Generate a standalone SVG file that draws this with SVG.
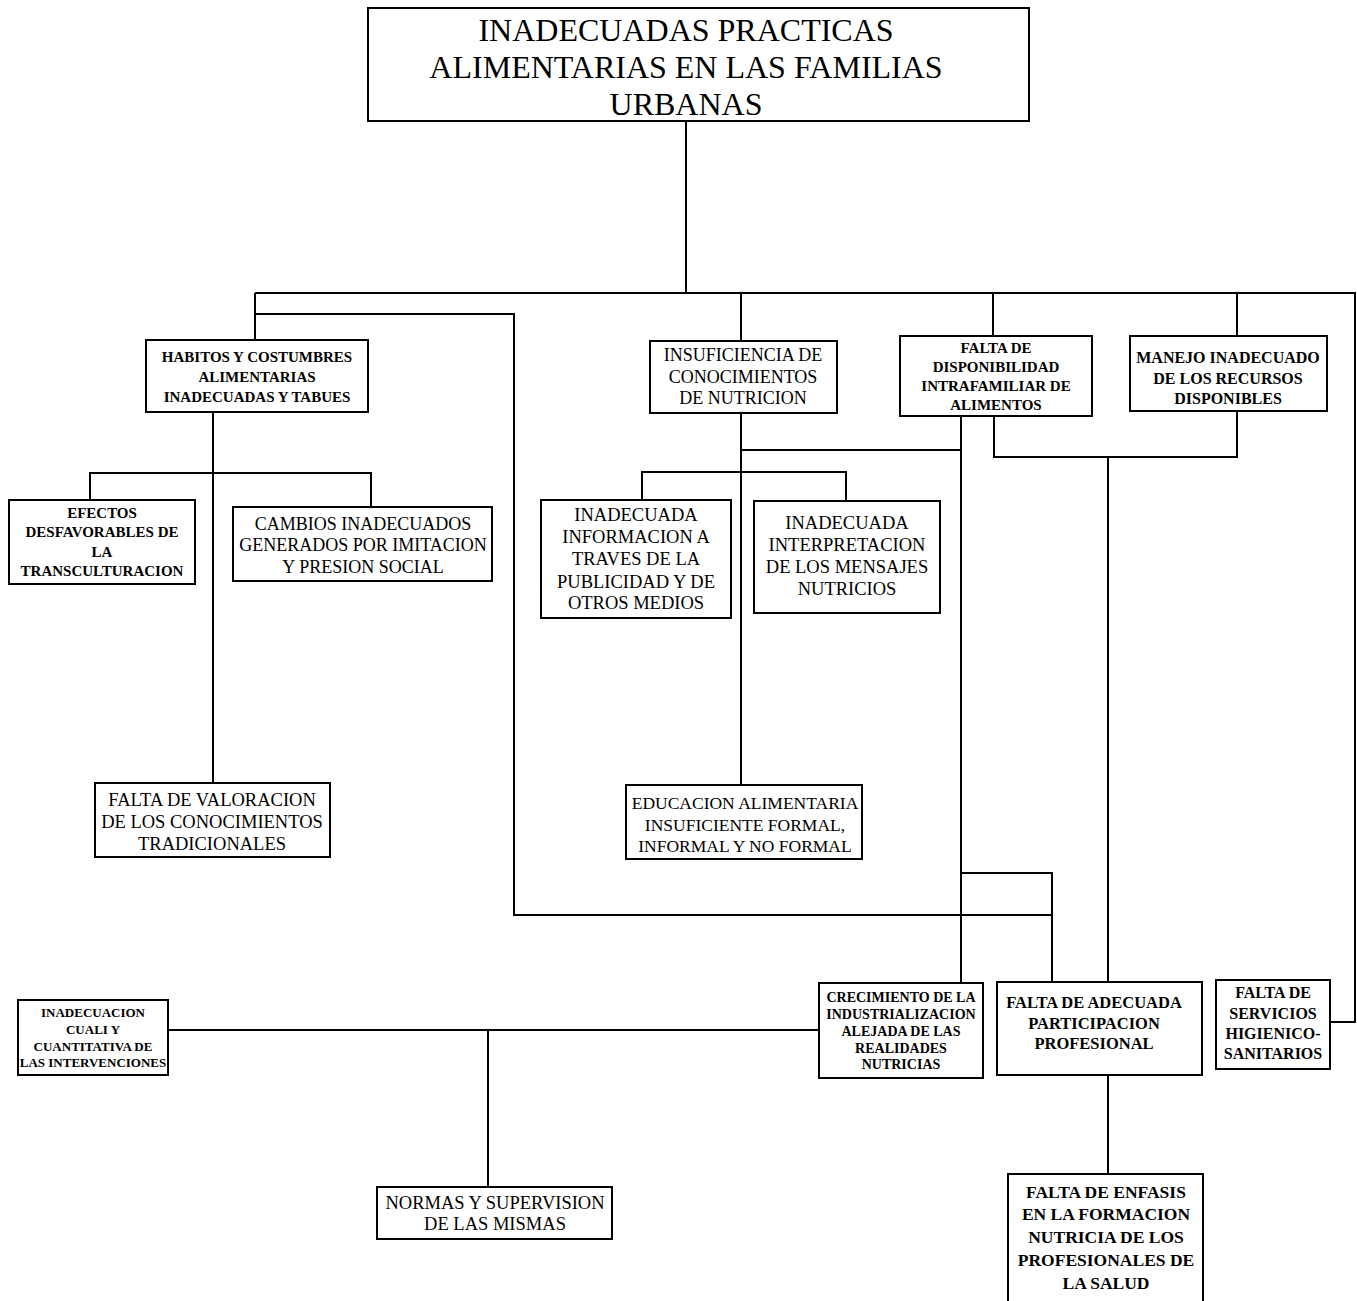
<svg xmlns="http://www.w3.org/2000/svg" width="1357" height="1301" viewBox="0 0 1357 1301">
  <style>
    .box { fill: #fff; stroke: #000; stroke-width: 2; }
    .wire { fill: none; stroke: #000; stroke-width: 2; }
    text { font-family: "Liberation Serif", "Times New Roman", serif; fill: #000; text-anchor: middle; }
    .b { font-weight: bold; }
  </style>
  <rect width="1357" height="1301" fill="#fff"/>

  <!-- connectors -->
  <g id="connectors" class="wire">
    <path d="M686,121 V293"/>
    <path d="M255,293 H1355 V1022 H1330"/>
    <path d="M255,293 V340"/>
    <path d="M255,314 H514 V915 H1052 V982"/>
    <path d="M741,293 V341"/>
    <path d="M993,293 V336"/>
    <path d="M1237,293 V336"/>
    <path d="M213,412 V783"/>
    <path d="M90,500 V473 H371 V507"/>
    <path d="M741,413 V785"/>
    <path d="M741,450 H961"/>
    <path d="M642,500 V472 H846 V501"/>
    <path d="M961,416 V983"/>
    <path d="M994,416 V457 H1237 V411"/>
    <path d="M1108,457 V982"/>
    <path d="M961,873 H1052 V915"/>
    <path d="M168,1030 H819"/>
    <path d="M488,1030 V1187"/>
    <path d="M1108,1075 V1174"/>
  </g>

  <!-- root problem -->
  <g id="root">
    <rect class="box" x="368" y="8" width="661" height="113"/>
    <text font-size="32" x="686" y="41">INADECUADAS PRACTICAS</text>
    <text font-size="32" x="686" y="78">ALIMENTARIAS EN LAS FAMILIAS</text>
    <text font-size="32" x="686" y="115">URBANAS</text>
  </g>

  <g id="habitos">
    <rect class="box" x="146" y="340" width="222" height="72"/>
    <text class="b" font-size="15" x="257" y="362">HABITOS Y COSTUMBRES</text>
    <text class="b" font-size="15" x="257" y="382">ALIMENTARIAS</text>
    <text class="b" font-size="15" x="257" y="402">INADECUADAS Y TABUES</text>
  </g>

  <g id="insuficiencia">
    <rect class="box" x="650" y="341" width="187" height="72"/>
    <text font-size="18" x="743" y="361">INSUFICIENCIA DE</text>
    <text font-size="18" x="743" y="383">CONOCIMIENTOS</text>
    <text font-size="18" x="743" y="404">DE NUTRICION</text>
  </g>

  <g id="disponibilidad">
    <rect class="box" x="900" y="336" width="192" height="80"/>
    <text class="b" font-size="15" x="996" y="353">FALTA DE</text>
    <text class="b" font-size="15" x="996" y="372">DISPONIBILIDAD</text>
    <text class="b" font-size="15" x="996" y="391">INTRAFAMILIAR DE</text>
    <text class="b" font-size="15" x="996" y="410">ALIMENTOS</text>
  </g>

  <g id="manejo">
    <rect class="box" x="1130" y="336" width="197" height="75"/>
    <text class="b" font-size="16" x="1228" y="363">MANEJO INADECUADO</text>
    <text class="b" font-size="16" x="1228" y="384">DE LOS RECURSOS</text>
    <text class="b" font-size="16" x="1228" y="404">DISPONIBLES</text>
  </g>

  <g id="efectos">
    <rect class="box" x="9" y="500" width="186" height="84"/>
    <text class="b" font-size="15" x="102" y="518">EFECTOS</text>
    <text class="b" font-size="15" x="102" y="537">DESFAVORABLES DE</text>
    <text class="b" font-size="15" x="102" y="557">LA</text>
    <text class="b" font-size="15" x="102" y="576">TRANSCULTURACION</text>
  </g>

  <g id="cambios">
    <rect class="box" x="233" y="507" width="259" height="74"/>
    <text font-size="18" x="363" y="530">CAMBIOS INADECUADOS</text>
    <text font-size="18" x="363" y="551">GENERADOS POR IMITACION</text>
    <text font-size="18" x="363" y="573">Y PRESION SOCIAL</text>
  </g>

  <g id="valoracion">
    <rect class="box" x="95" y="783" width="235" height="74"/>
    <text font-size="18.5" x="212" y="806">FALTA DE VALORACION</text>
    <text font-size="18.5" x="212" y="828">DE LOS CONOCIMIENTOS</text>
    <text font-size="18.5" x="212" y="850">TRADICIONALES</text>
  </g>

  <g id="informacion">
    <rect class="box" x="541" y="500" width="190" height="118"/>
    <text font-size="18.5" x="636" y="521">INADECUADA</text>
    <text font-size="18.5" x="636" y="543">INFORMACION A</text>
    <text font-size="18.5" x="636" y="565">TRAVES DE LA</text>
    <text font-size="18.5" x="636" y="588">PUBLICIDAD Y DE</text>
    <text font-size="18.5" x="636" y="609">OTROS MEDIOS</text>
  </g>

  <g id="interpretacion">
    <rect class="box" x="754" y="501" width="186" height="112"/>
    <text font-size="18.5" x="847" y="529">INADECUADA</text>
    <text font-size="18.5" x="847" y="551">INTERPRETACION</text>
    <text font-size="18.5" x="847" y="573">DE LOS MENSAJES</text>
    <text font-size="18.5" x="847" y="595">NUTRICIOS</text>
  </g>

  <g id="educacion">
    <rect class="box" x="626" y="785" width="236" height="74"/>
    <text font-size="17.5" x="745" y="809">EDUCACION ALIMENTARIA</text>
    <text font-size="17.5" x="745" y="831">INSUFICIENTE FORMAL,</text>
    <text font-size="17.5" x="745" y="852">INFORMAL Y NO FORMAL</text>
  </g>

  <g id="crecimiento">
    <rect class="box" x="819" y="983" width="164" height="95"/>
    <text class="b" font-size="14" x="901" y="1002">CRECIMIENTO DE LA</text>
    <text class="b" font-size="14" x="901" y="1019">INDUSTRIALIZACION</text>
    <text class="b" font-size="14" x="901" y="1036">ALEJADA DE LAS</text>
    <text class="b" font-size="14" x="901" y="1053">REALIDADES</text>
    <text class="b" font-size="14" x="901" y="1069">NUTRICIAS</text>
  </g>

  <g id="participacion">
    <rect class="box" x="997" y="982" width="205" height="93"/>
    <text class="b" font-size="16.5" x="1094" y="1008">FALTA DE ADECUADA</text>
    <text class="b" font-size="16.5" x="1094" y="1029">PARTICIPACION</text>
    <text class="b" font-size="16.5" x="1094" y="1049">PROFESIONAL</text>
  </g>

  <g id="servicios">
    <rect class="box" x="1216" y="980" width="114" height="89"/>
    <text class="b" font-size="16" x="1273" y="998">FALTA DE</text>
    <text class="b" font-size="16" x="1273" y="1019">SERVICIOS</text>
    <text class="b" font-size="16" x="1273" y="1039">HIGIENICO-</text>
    <text class="b" font-size="16" x="1273" y="1059">SANITARIOS</text>
  </g>

  <g id="intervenciones">
    <rect class="box" x="18" y="1000" width="150" height="75"/>
    <text class="b" font-size="13" x="93" y="1017">INADECUACION</text>
    <text class="b" font-size="13" x="93" y="1034">CUALI Y</text>
    <text class="b" font-size="13" x="93" y="1051">CUANTITATIVA DE</text>
    <text class="b" font-size="13" x="93" y="1067">LAS INTERVENCIONES</text>
  </g>

  <g id="normas">
    <rect class="box" x="377" y="1187" width="235" height="52"/>
    <text font-size="18.5" x="495" y="1209">NORMAS Y SUPERVISION</text>
    <text font-size="18.5" x="495" y="1230">DE LAS MISMAS</text>
  </g>

  <g id="enfasis">
    <rect class="box" x="1008" y="1174" width="195" height="135"/>
    <text class="b" font-size="17.5" x="1106" y="1198">FALTA DE ENFASIS</text>
    <text class="b" font-size="17.5" x="1106" y="1220">EN LA FORMACION</text>
    <text class="b" font-size="17.5" x="1106" y="1243">NUTRICIA DE LOS</text>
    <text class="b" font-size="17.5" x="1106" y="1266">PROFESIONALES DE</text>
    <text class="b" font-size="17.5" x="1106" y="1289">LA SALUD</text>
  </g>
</svg>
